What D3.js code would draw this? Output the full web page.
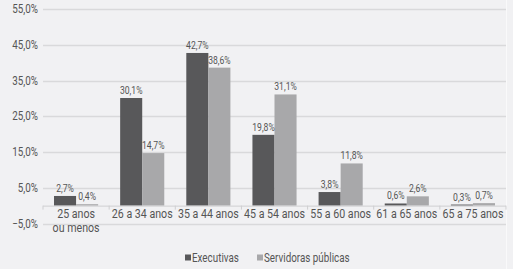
<!DOCTYPE html>
<html>
<head>
<meta charset="utf-8">
<script src="https://cdn.jsdelivr.net/npm/d3@7"></script>
<style>
  body { margin: 0; background: #f1f1f3; }
  svg { display: block; font-family: Roboto, "Liberation Sans", sans-serif; }
</style>
</head>
<body>
<svg id="chart"></svg>
<script>
var categories = ["25 anos|ou menos", "26 a 34 anos", "35 a 44 anos", "45 a 54 anos", "55 a 60 anos", "61 a 65 anos", "65 a 75 anos"];
var executivas = [2.7, 30.1, 42.7, 19.8, 3.8, 0.6, 0.3];
var servidoras = [0.4, 14.7, 38.6, 31.1, 11.8, 2.6, 0.7];
var seriesNames = ["Executivas", "Servidoras públicas"];
var yTicks = [-5, 5, 15, 25, 35, 45, 55];

var width = 513, height = 269;
var margin = { top: 9, left: 43, right: 7, bottom: 46 };
var colors = ["#58585a", "#a8a8aa"];
var squeeze = 0.82; // condensed look
var fmt = function (v) { return v.toFixed(1).replace(".", ",") + "%"; };
var place = function (px, py) { return "translate(" + px + "," + py + ") scale(" + squeeze + ",1)"; };

var svg = d3.select("#chart").attr("width", width).attr("height", height);

var y = d3.scaleLinear().domain([-5, 55]).range([223.5, 9]);
var x = d3.scaleBand().domain(categories).range([margin.left, width - margin.right]).paddingInner(0.333).paddingOuter(0.1665);
var x1 = d3.scaleBand().domain(seriesNames).range([0, x.bandwidth()]);

// faint right edge of plot frame
svg.append("line")
   .attr("x1", width - margin.right + 0.5).attr("x2", width - margin.right + 0.5)
   .attr("y1", 0).attr("y2", height)
   .attr("stroke", "#f9f9fa").attr("stroke-width", 1);

// gridlines
svg.append("g").selectAll("line")
   .data(yTicks)
   .enter().append("line")
   .attr("x1", margin.left).attr("x2", width - margin.right)
   .attr("y1", function (d) { return Math.round(y(d)) + 0.5; })
   .attr("y2", function (d) { return Math.round(y(d)) + 0.5; })
   .attr("stroke", "#d9d9db").attr("stroke-width", 1.5);

// y labels
svg.append("g").selectAll("text")
   .data(yTicks)
   .enter().append("text")
   .attr("transform", function (d) { return place(38, y(d) + 4); })
   .attr("text-anchor", "end")
   .style("font-size", "12px").attr("fill", "#555")
   .text(function (d) { return (d < 0 ? "\u2212" : "") + Math.abs(d).toFixed(1).replace(".", ",") + "%"; });

// bars
var groups = svg.append("g").selectAll("g")
   .data(categories)
   .enter().append("g")
   .attr("transform", function (d) { return "translate(" + x(d) + ",0)"; });

var pairs = function (d, i) {
  return [executivas[i], servidoras[i]].map(function (v, j) { return { s: seriesNames[j], v: v, j: j }; });
};

groups.selectAll("rect")
   .data(pairs)
   .enter().append("rect")
   .attr("x", function (d) { return x1(d.s); })
   .attr("width", x1.bandwidth())
   .attr("y", function (d) { return y(d.v); })
   .attr("height", function (d) { return y(0) - y(d.v); })
   .attr("fill", function (d) { return colors[d.j]; });

groups.selectAll("text")
   .data(pairs)
   .enter().append("text")
   .attr("transform", function (d) { return place(x1(d.s) + x1.bandwidth() / 2, y(d.v) - 4); })
   .attr("text-anchor", "middle")
   .style("font-size", "10.5px").attr("fill", "#555")
   .text(function (d) { return fmt(d.v); });

// zero axis
svg.append("line")
   .attr("x1", margin.left).attr("x2", width - margin.right)
   .attr("y1", y(0) + 0.5).attr("y2", y(0) + 0.5)
   .attr("stroke", "#cfcfd1").attr("stroke-width", 1);

var step = (width - margin.left - margin.right) / categories.length;
svg.append("g").selectAll("line")
   .data(d3.range(categories.length + 1))
   .enter().append("line")
   .attr("x1", function (i) { return margin.left + i * step; })
   .attr("x2", function (i) { return margin.left + i * step; })
   .attr("y1", y(0)).attr("y2", y(0) + 4)
   .attr("stroke", "#cfcfd1");

// category labels
svg.append("g").selectAll("g")
   .data(categories)
   .enter().append("g")
   .each(function (c) {
     var g = d3.select(this);
     c.split("|").forEach(function (t, i) {
       g.append("text")
        .attr("transform", place(x(c) + x.bandwidth() / 2, 218 + i * 14))
        .attr("text-anchor", "middle")
        .style("font-size", "13px").attr("fill", "#555")
        .text(t);
     });
   });

// legend
var legX = [185, 257];
var leg = svg.append("g").selectAll("g")
   .data(seriesNames)
   .enter().append("g")
   .attr("transform", function (d, i) { return "translate(" + legX[i] + ",258)"; });
leg.append("rect").attr("x", 0).attr("y", -3.5).attr("width", 6).attr("height", 6)
   .attr("fill", function (d, i) { return colors[i]; });
leg.append("text").attr("transform", place(7, 4))
   .style("font-size", "12px").attr("fill", "#555")
   .text(function (d) { return d; });
</script>
</body>
</html>
